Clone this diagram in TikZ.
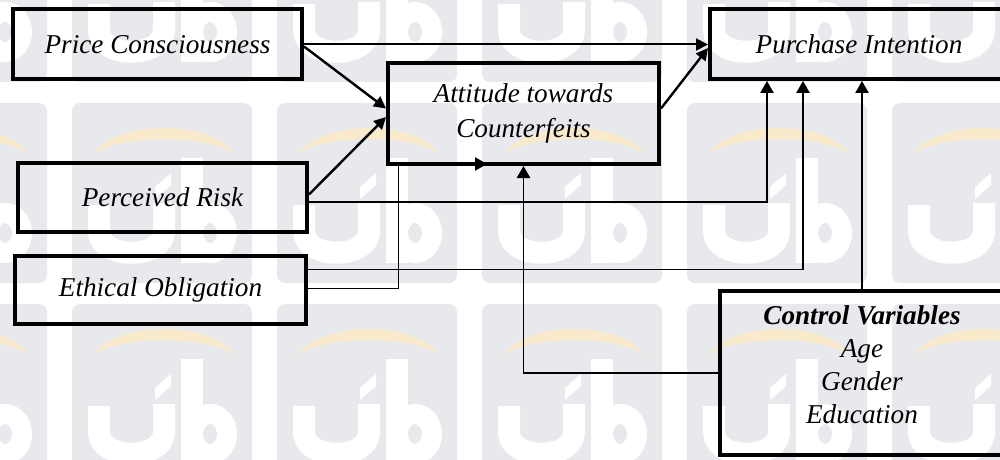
\documentclass[tikz,border=0pt]{standalone}
\usepackage{fontspec}
\setmainfont{Liberation Serif}
\usetikzlibrary{arrows.meta,calc}

\definecolor{tilegrey}{HTML}{E7E9ED}
\definecolor{arcpeach}{HTML}{F9EACB}

\begin{document}
\begin{tikzpicture}[x=0.75pt,y=-0.75pt,
  varbox/.style={draw=black,line width=3pt,inner sep=0pt,align=center,
    font=\fontsize{20.4pt}{26.25pt}\selectfont\itshape},
  toplink/.style={line width=1.5pt,-{Triangle[length=9pt,width=9pt]}},
  diaglink/.style={line width=1.8pt,-{Triangle[length=9pt,width=9pt]}},
  wirelink/.style={line width=1.2pt,-{Triangle[length=9pt,width=10pt]}},
  logostroke/.style={white,line width=16.5pt}
]
\useasboundingbox (0,0) rectangle (1000,460);
\clip (0,0) rectangle (1000,460);

% tiled logo background
\fill[white] (0,0) rectangle (1000,460);
\foreach \tx in {-133,72,277,482,687,892}{
  \foreach \ty in {-98,103,304}{
    \begin{scope}[shift={(\tx,\ty)}]
      \fill[tilegrey,rounded corners=6pt] (0,0) rectangle (180,180);
      \fill[arcpeach] (20,52) .. controls (45,16) and (139,16) .. (163,52)
                      .. controls (139,31) and (45,31) .. (20,52) -- cycle;
      % u and i
      \draw[logostroke] (27,102) -- (27,128) .. controls (27,157) and (92,157) .. (92,128) -- (92,100);
      \fill[white] (83,96) -- (83,84) -- (99,70) -- (99,82) -- cycle;
      % b
      \draw[logostroke] (119.5,55) -- (119.5,160);
      \draw[white,line width=15pt] (138,130) ellipse [x radius=17,y radius=20];
    \end{scope}
  }
}

% variables
\node[varbox,minimum width=216.75pt,minimum height=52.5pt] (PC) at (157.5,44.5) {Price Consciousness};
\node[varbox,minimum width=216.75pt,minimum height=51.75pt] (PR) at (162.5,197.5) {Perceived Risk};
\node[varbox,minimum width=218.25pt,minimum height=51pt] (EO) at (160.5,290) {Ethical Obligation};
\node[varbox,minimum width=203.25pt,minimum height=75.75pt] (AT) at (523.5,113.5) {Attitude towards\\Counterfeits};
\node[varbox,minimum width=223.5pt,minimum height=52.5pt] (PI) at (859,44) {Purchase Intention};
\node[varbox,minimum width=213pt,minimum height=123pt] (CV) at (862,373)
  {\raisebox{4pt}[\height][\depth]{\fontsize{20.4pt}{24.75pt}\selectfont
   \begin{tabular}{@{}c@{}}\bfseries Control Variables\\ Age\\ Gender\\ Education\end{tabular}}};

% direct paths
\draw[toplink] (PC.east) -- (PC.east -| PI.west);
\draw[diaglink] ($(PC.east)+(0,2)$) -- ($(AT.west)+(0,-5)$);
\draw[diaglink] ($(PR.east)+(0,-3)$) -- ($(AT.west)+(0,3.5)$);
\draw[diaglink] ($(AT.east)+(0,-5)$) -- ($(PI.west)+(0,4)$);

% routed paths
\draw[wirelink] ($(PR.east)+(0,4.5)$) -| ($(PI.south west)+(59,0)$);
\draw[wirelink] ($(EO.east)+(0,-20.5)$) -| ($(PI.south west)+(95,0)$);
\draw[wirelink] ($(EO.east)+(0,-1.5)$) -| ($(AT.south west)+(12.5,-2)$) -- ($(AT.south west)+(101,-2)$);
\draw[wirelink] (CV.west) -| (AT.south);
\draw[wirelink] (CV.north) -- (CV.north |- PI.south);
\end{tikzpicture}
\end{document}
